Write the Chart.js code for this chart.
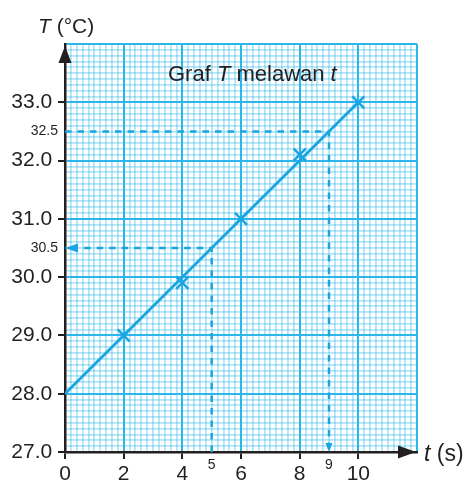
<!DOCTYPE html>
<html>
<head>
<meta charset="utf-8">
<script src="https://cdn.jsdelivr.net/npm/chart.js@4"></script>
<style>
  html, body { margin: 0; padding: 0; background: #fff; }
  #wrap { width: 471px; height: 485px; }
</style>
</head>
<body>
<div id="wrap"><canvas id="graf"></canvas></div>
<script>
// Data
const measuredTime = [2, 4, 6, 8, 10];
const measuredTemp = [29.0, 29.9, 31.0, 32.1, 33.0];
const fitTime = [0, 10];
const fitTemp = [28.0, 33.0];
// dashed read-off lines (t = 5 -> T = 30.5, T = 32.5 -> t = 9)
const guideATime = [5, 5, 0];
const guideATemp = [27.0, 30.5, 30.5];
const guideBTime = [0, 9, 9];
const guideBTemp = [32.5, 32.5, 27.0];
// axes
const timeRange = [0, 12];
const tempRange = [27, 34];
const timeTicks = [0, 2, 4, 6, 8, 10];
const timeReadTicks = [5, 9];
const tempTicks = [27, 28, 29, 30, 31, 32, 33];
const tempReadTicks = [30.5, 32.5];
// captions
const chartTitle = [['Graf ', false], ['T', true], [' melawan ', false], ['t', true]];
const yTitle = [['T', true], [' (°C)', false]];
const xTitle = [['t', true], [' (s)', false]];

const INK = '#231f20';
const BLUE = '#1ba5e0';
const GRID_MAJOR = '#2cb6ea';
// translucent so the minor lines don't break up the major ones where they cross
const GRID_MINOR = 'rgba(44, 182, 234, 0.36)';
const FONT = "'Liberation Sans', Arial, sans-serif";

const near = (v, list) => list.some(t => Math.abs(t - v) < 1e-6);
const pts = (xs, ys) => xs.map((x, i) => ({ x, y: ys[i] }));
const isWhole = (v, step) => Math.abs(v / step - Math.round(v / step)) < 1e-6;
const tickVal = c => (c && c.tick) ? c.tick.value : NaN;

function arrowHead(ctx, tipX, tipY, dirX, dirY, len, half, color) {
    ctx.save();
    ctx.fillStyle = color;
    ctx.beginPath();
    ctx.moveTo(tipX, tipY);
    ctx.lineTo(tipX - dirX * len - dirY * half, tipY - dirY * len + dirX * half);
    ctx.lineTo(tipX - dirX * len + dirY * half, tipY - dirY * len - dirX * half);
    ctx.closePath();
    ctx.fill();
    ctx.restore();
}

function drawRuns(ctx, x, y, runs, size) {
    ctx.save();
    ctx.fillStyle = INK;
    ctx.textBaseline = 'alphabetic';
    ctx.textAlign = 'left';
    runs.forEach(([text, italic]) => {
        ctx.font = `${italic ? 'italic ' : ''}${size}px ${FONT}`;
        ctx.fillText(text, x, y);
        x += ctx.measureText(text).width;
    });
    ctx.restore();
}

const decorations = {
    id: 'decorations',
    afterDatasetsDraw(chart) {
        const { ctx, scales: { x, y } } = chart;
        // arrow heads at the end of the dashed read-off lines
        chart.data.datasets.forEach(ds => {
            if (!ds.arrow) return;
            const n = ds.data.length;
            const end = ds.data[n - 1], prev = ds.data[n - 2];
            const ex = x.getPixelForValue(end.x), ey = y.getPixelForValue(end.y);
            const px = x.getPixelForValue(prev.x), py = y.getPixelForValue(prev.y);
            const d = Math.hypot(ex - px, ey - py);
            arrowHead(ctx, ex, ey, (ex - px) / d, (ey - py) / d, ds.arrow.len, ds.arrow.half, ds.borderColor);
        });
    },
    afterDraw(chart) {
        const { ctx, chartArea: a } = chart;
        // axis arrows
        arrowHead(ctx, a.left, a.top + 2, 0, -1, 17, 6.5, INK);
        arrowHead(ctx, a.right - 1, a.bottom, 1, 0, 18, 6.5, INK);
        // captions
        drawRuns(ctx, a.left - 27, a.top - 11, yTitle, 21);
        drawRuns(ctx, a.right + 7, a.bottom + 9, xTitle, 23);
        drawRuns(ctx, a.left + 103, a.top + 37, chartTitle, 22);
    }
};

function tickFont(v, major, read) {
    if (near(v, major)) return { family: FONT, size: 21 };
    if (near(v, read)) return { family: FONT, size: 14, lineHeight: 0.43 };
    return { family: FONT, size: 1, lineHeight: 0 };
}

new Chart(document.getElementById('graf'), {
    type: 'scatter',
    data: {
        datasets: [
            {
                label: 'guide A',
                data: pts(guideATime, guideATemp),
                showLine: true,
                borderColor: BLUE,
                borderWidth: 2.5,
                borderDash: [6.5, 6],
                pointRadius: 0,
                arrow: { len: 13, half: 4.5 }
            },
            {
                label: 'guide B',
                data: pts(guideBTime, guideBTemp),
                showLine: true,
                borderColor: BLUE,
                borderWidth: 2.5,
                borderDash: [6.5, 6],
                pointRadius: 0,
                arrow: { len: 9, half: 3.5 }
            },
            {
                label: 'fit',
                data: pts(fitTime, fitTemp),
                showLine: true,
                borderColor: BLUE,
                borderWidth: 2.8,
                pointRadius: 0
            },
            {
                label: 'T',
                data: pts(measuredTime, measuredTemp),
                pointStyle: 'crossRot',
                pointRadius: 8.5,
                borderWidth: 2.5,
                borderColor: BLUE,
                backgroundColor: BLUE
            }
        ]
    },
    plugins: [decorations],
    options: {
        responsive: true,
        maintainAspectRatio: false,
        animation: false,
        devicePixelRatio: 1,
        layout: { padding: { top: 44, right: 54, left: 0, bottom: 0 } },
        plugins: {
            legend: { display: false },
            tooltip: { enabled: false }
        },
        scales: {
            x: {
                type: 'linear',
                min: timeRange[0],
                max: timeRange[1],
                afterFit: s => { s.height = 33; },
                border: { color: INK, width: 2.5 },
                grid: {
                    color: c => isWhole(tickVal(c), 2) ? GRID_MAJOR : GRID_MINOR,
                    lineWidth: c => isWhole(tickVal(c), 2) ? 2 : 1.8,
                    tickColor: c => near(tickVal(c), timeTicks) ? INK : 'rgba(0,0,0,0)',
                    tickLength: 7
                },
                ticks: {
                    stepSize: 0.2,
                    autoSkip: false,
                    maxRotation: 0,
                    minRotation: 0,
                    padding: 3,
                    color: INK,
                    font: c => tickFont(tickVal(c), timeTicks, timeReadTicks),
                    callback: v => (near(v, timeTicks) || near(v, timeReadTicks)) ? String(Math.round(v)) : ''
                }
            },
            y: {
                type: 'linear',
                min: tempRange[0],
                max: tempRange[1],
                afterFit: s => { s.width = 65; },
                border: { color: INK, width: 2.5 },
                grid: {
                    color: c => isWhole(tickVal(c), 1) ? GRID_MAJOR : GRID_MINOR,
                    lineWidth: c => isWhole(tickVal(c), 1) ? 2 : 1.8,
                    tickColor: c => near(tickVal(c), tempTicks) ? INK : 'rgba(0,0,0,0)',
                    tickLength: 7
                },
                ticks: {
                    stepSize: 0.1,
                    autoSkip: false,
                    padding: 0,
                    color: INK,
                    font: c => tickFont(tickVal(c), tempTicks, tempReadTicks),
                    // trailing space keeps the big labels clear of the tick marks
                    callback: v => near(v, tempTicks) ? v.toFixed(1) + ' ' : near(v, tempReadTicks) ? v.toFixed(1) : ''
                }
            }
        }
    }
});
</script>
</body>
</html>
